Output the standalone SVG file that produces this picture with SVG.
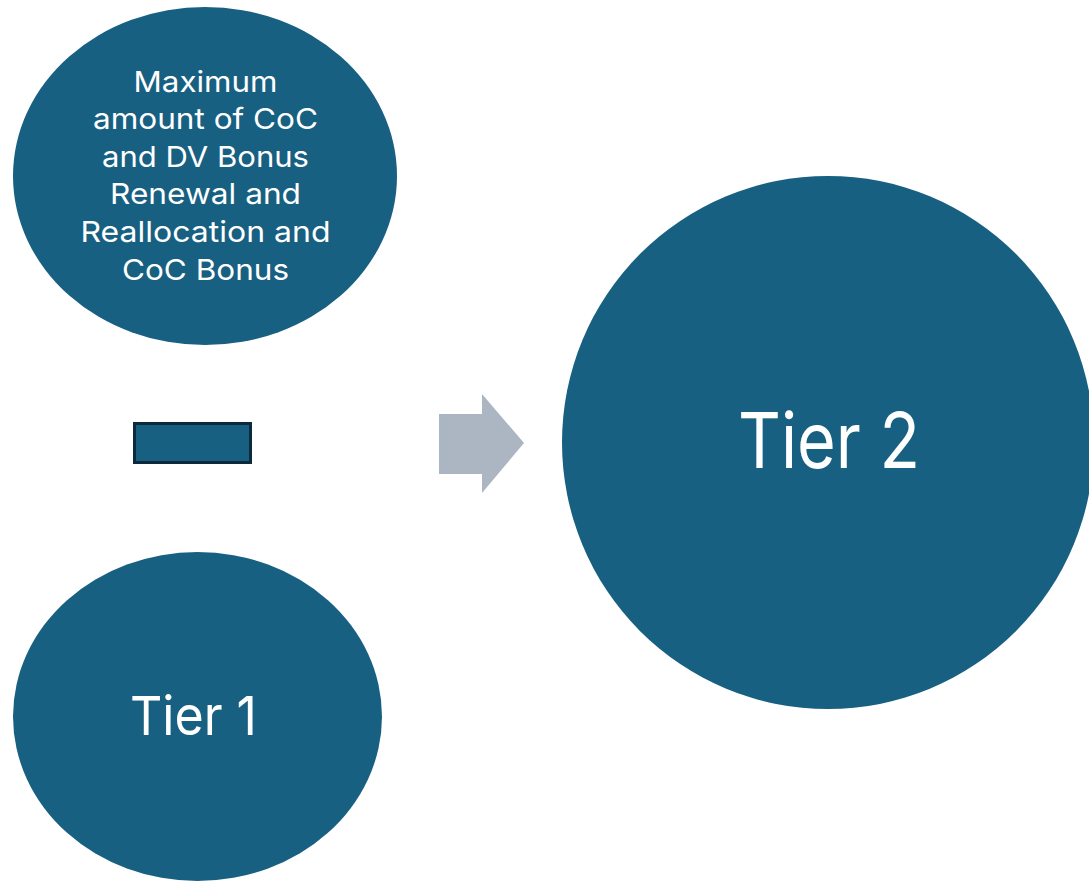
<svg xmlns="http://www.w3.org/2000/svg" width="1089" height="881" viewBox="0 0 1089 881">
<style>
.shape{fill:#186081}
.t{fill:#ffffff;font-family:Inter,"Open Sans","Liberation Sans",sans-serif;text-anchor:middle}
.s{font-size:29px}
</style>
<rect width="1089" height="881" fill="#ffffff"/>
<g id="node-top">
<ellipse class="shape" cx="205" cy="176" rx="192" ry="169"/>
<text class="t s" x="205.5" y="91.7" textLength="144" lengthAdjust="spacingAndGlyphs">Maximum</text>
<text class="t s" x="205.5" y="129.3" textLength="225" lengthAdjust="spacingAndGlyphs">amount of CoC</text>
<text class="t s" x="205.5" y="166.7" textLength="207" lengthAdjust="spacingAndGlyphs">and DV Bonus</text>
<text class="t s" x="205.5" y="204.3" textLength="191" lengthAdjust="spacingAndGlyphs">Renewal and</text>
<text class="t s" x="205.5" y="242.3" textLength="250" lengthAdjust="spacingAndGlyphs">Reallocation and</text>
<text class="t s" x="205.5" y="280" textLength="167" lengthAdjust="spacingAndGlyphs">CoC Bonus</text>
</g>
<g id="node-minus">
<rect x="134.5" y="423.5" width="116" height="39" fill="#186081" stroke="#0c2a3b" stroke-width="3"/>
</g>
<g id="node-tier1">
<ellipse class="shape" cx="197.5" cy="716.5" rx="184.5" ry="164.5"/>
<text class="t" x="193.5" y="735" font-size="54" textLength="127" lengthAdjust="spacingAndGlyphs">Tier 1</text>
</g>
<g id="node-tier2">
<ellipse class="shape" cx="828" cy="442.5" rx="266" ry="266.5"/>
<text class="t" x="829" y="468" font-size="77" textLength="182" lengthAdjust="spacingAndGlyphs">Tier 2</text>
</g>
<g id="connectors">
<polygon points="439,414 482,414 482,394 524,443 482,493 482,474 439,474" fill="#abb6c2"/>
</g>
</svg>
